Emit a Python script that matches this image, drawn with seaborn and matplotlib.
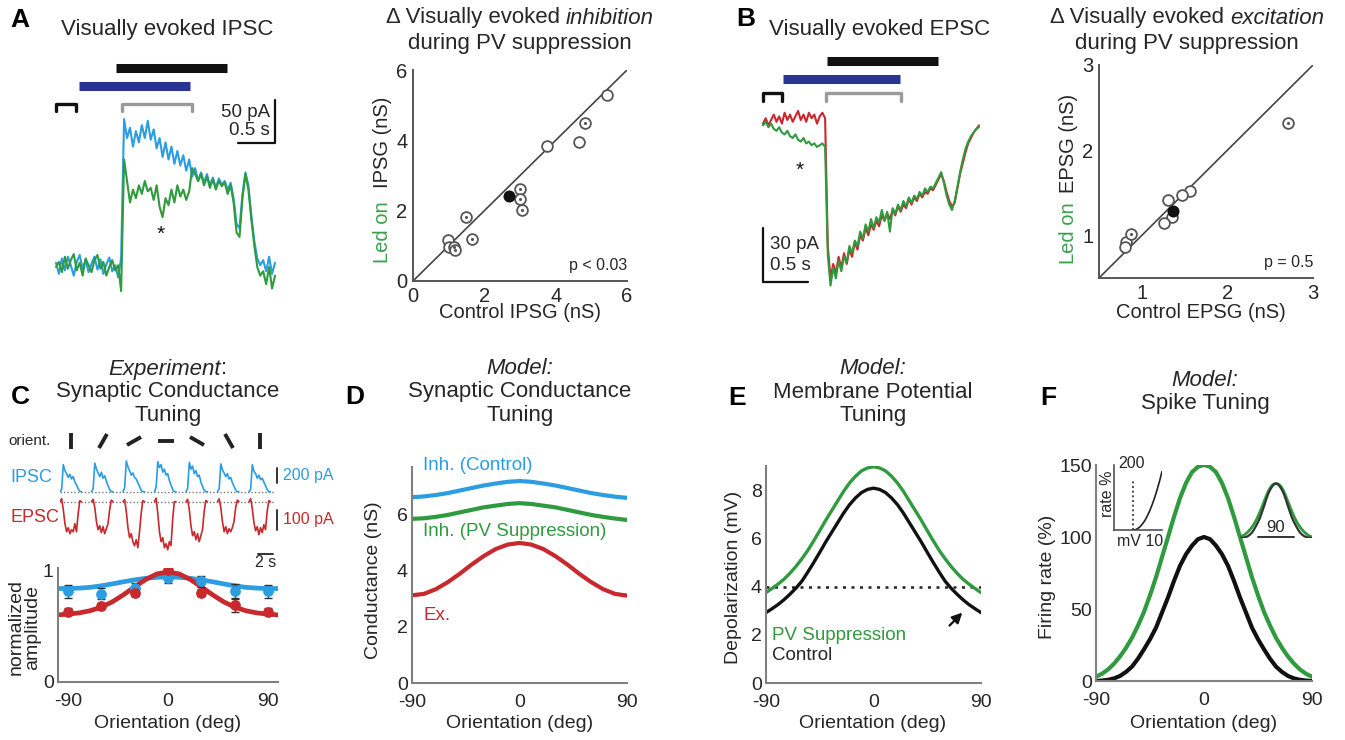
import numpy as np
import matplotlib
matplotlib.use("Agg")
import matplotlib.pyplot as plt
from matplotlib.markers import MarkerStyle
from matplotlib.transforms import Affine2D
import seaborn as sns

# ---------------- values ----------------
# A: visually evoked IPSC (pA), one sample every 40 ms
ipsc_dt = 0.04
ipsc_control = [5, -8, 10, -4, 12, 2, -10, 6, 14, -2, 8, -6, 4, 12, -3, 9, -8, 3, 11, -5, 2, -12,
                10, 172, 150, 162, 140, 158, 145, 165, 150, 170, 148, 160, 138, 150, 128, 145, 125,
                140, 120, 135, 118, 130, 112, 125, 105, 115, 100, 110, 98, 108, 95, 104, 92, 103,
                96, 100, 90, 98, 80, 50, 45, 85, 110, 95, 60, 30, 10, 2, 8, -5, 12, -8, 5]
ipsc_led = [0, 6, -6, 12, -2, 8, 15, -4, 5, -10, 10, 2, -6, 8, 14, -2, 6, -10, 0, 8, -4, 2,
            -28, 125, 100, 75, 90, 80, 95, 85, 100, 88, 92, 78, 95, 70, 58, 80, 72, 90, 75, 95,
            82, 90, 78, 88, 115, 108, 100, 108, 95, 105, 92, 102, 90, 100, 94, 98, 85, 95, 75,
            40, 35, 80, 108, 90, 55, 25, 0, -10, -5, -20, 0, -25, -10]
ipsc_base_win = (0.0, 0.27)
ipsc_led_win = (0.31, 1.81)
ipsc_stim_win = (0.81, 2.31)
ipsc_meas_win = (0.89, 1.84)

# B: visually evoked EPSC (pA), one sample every 30 ms
epsc_dt = 0.03
epsc_control = [-2, 1, -3, 0, 3, -1, 2, -2, 4, 0, 3, -1, 2, 5, 0, 3, -1, 4, 1, 3, -2, 2, 4, 1,
                -70, -88, -80, -85, -76, -82, -74, -80, -72, -76, -68, -72, -64, -67, -60, -64,
                -58, -61, -56, -59, -53, -56, -52, -55, -50, -53, -48, -51, -47, -49, -44, -47,
                -43, -45, -41, -43, -40, -41, -38, -39, -36, -33, -30, -34, -40, -45, -48, -46,
                -38, -30, -24, -18, -13, -10, -7, -5, -3]
epsc_led = [-3, -1, -4, -2, -5, -6, -4, -7, -8, -6, -9, -10, -8, -11, -12, -10, -13, -12, -14,
            -13, -15, -14, -13, -15,
            -75, -92, -82, -88, -78, -84, -76, -79, -70, -74, -67, -70, -62, -66, -58, -62,
            -55, -60, -54, -57, -50, -56, -51, -62, -49, -52, -47, -50, -45, -48, -43, -46,
            -42, -44, -40, -42, -38, -40, -37, -38, -35, -32, -29, -35, -42, -47, -50, -45,
            -37, -29, -22, -16, -12, -9, -7, -5, -4]
epsc_base_win = (0.0, 0.21)
epsc_led_win = (0.22, 1.52)
epsc_stim_win = (0.71, 1.94)
epsc_meas_win = (0.70, 1.53)

# A right: IPSG (nS), control vs LED on
ipsg_ctrl_open = [5.45, 4.65, 3.75, 0.97, 1.02]
ipsg_led_open = [5.30, 3.95, 3.85, 1.18, 0.98]
ipsg_ctrl_dot = [4.83, 3.00, 3.00, 3.05, 1.49, 1.66, 1.14, 1.18]
ipsg_led_dot = [4.50, 2.63, 2.32, 2.02, 1.81, 1.19, 0.98, 0.88]
ipsg_mean = (2.70, 2.42)

# B right: EPSG (nS), control vs LED on
epsg_ctrl_open = [1.56, 1.47, 1.31, 1.35, 1.26, 0.82, 0.80]
epsg_led_open = [1.52, 1.47, 1.41, 1.22, 1.14, 0.92, 0.86]
epsg_ctrl_dot = [2.71, 0.87]
epsg_led_dot = [2.32, 1.02]
epsg_mean = (1.37, 1.29)

# C: example responses to 7 orientations (pA)
c_dt = 0.22
c_period = 4.2
c_ipsc = [[0, 30, 360, 280, 240, 190, 230, 170, 200, 130, 90, 40, 5, 0],
          [0, 40, 380, 300, 250, 200, 260, 180, 210, 140, 80, 30, 0, 0],
          [0, 50, 410, 330, 280, 220, 250, 190, 170, 120, 70, 20, 0, 0],
          [0, 60, 400, 320, 360, 260, 300, 220, 240, 150, 90, 30, 0, 0],
          [0, 45, 390, 300, 340, 240, 280, 200, 220, 130, 70, 20, 0, 0],
          [0, 35, 370, 290, 250, 200, 240, 170, 190, 120, 70, 25, 0, 0],
          [0, 30, 360, 270, 240, 180, 220, 160, 180, 130, 80, 30, 0, 0]]
c_epsc = [[0, 15, -40, -110, -150, -130, -160, -140, -150, -110, -150, -60, 5, 0],
          [0, 12, -30, -100, -140, -120, -155, -125, -160, -135, -110, -40, 8, 0],
          [0, 10, -50, -130, -180, -160, -200, -220, -190, -230, -150, -60, 5, 0],
          [0, 18, -60, -150, -200, -180, -230, -210, -240, -200, -220, -90, 0, 0],
          [0, 12, -40, -120, -170, -150, -190, -160, -200, -170, -140, -50, 6, 0],
          [0, 14, -30, -100, -150, -125, -160, -135, -150, -130, -100, -30, 8, 0],
          [0, 15, -35, -105, -145, -125, -165, -130, -155, -115, -140, -50, 5, 0]]
orientations = [-90, -60, -30, 0, 30, 60, 90]
ipsc_norm = [0.81, 0.79, 0.84, 0.93, 0.90, 0.81, 0.81]
ipsc_sem = [0.06, 0.05, 0.05, 0.04, 0.05, 0.07, 0.06]
epsc_norm = [0.63, 0.68, 0.80, 1.00, 0.80, 0.69, 0.63]
epsc_sem = [0.03, 0.03, 0.03, 0.02, 0.03, 0.06, 0.03]
fit_ori = [-99, -90, -80, -70, -60, -50, -40, -30, -20, -10, 0, 10, 20, 30, 40, 50, 60, 70, 80, 90, 99]
ipsc_fit = [0.836, 0.837, 0.840, 0.847, 0.861, 0.878, 0.897, 0.914, 0.928, 0.937, 0.940,
            0.937, 0.928, 0.914, 0.897, 0.878, 0.861, 0.847, 0.840, 0.837, 0.836]
epsc_fit = [0.600, 0.608, 0.618, 0.638, 0.670, 0.718, 0.781, 0.851, 0.918, 0.967, 0.985,
            0.967, 0.918, 0.851, 0.781, 0.718, 0.670, 0.638, 0.618, 0.608, 0.600]

# D: model conductances (10 deg steps)
model_ori = [-90, -80, -70, -60, -50, -40, -30, -20, -10, 0, 10, 20, 30, 40, 50, 60, 70, 80, 90]
g_inh_control = [6.63, 6.66, 6.71, 6.78, 6.87, 6.96, 7.05, 7.12, 7.18, 7.21, 7.18, 7.12, 7.05,
                 6.96, 6.87, 6.78, 6.71, 6.65, 6.61]
g_inh_pv = [5.86, 5.88, 5.93, 6.00, 6.09, 6.18, 6.27, 6.33, 6.39, 6.42, 6.39, 6.33, 6.27, 6.18,
            6.09, 6.00, 5.93, 5.87, 5.82]
g_exc = [3.13, 3.18, 3.35, 3.60, 3.90, 4.23, 4.53, 4.78, 4.94, 5.00, 4.94, 4.78, 4.53, 4.23,
         3.90, 3.60, 3.35, 3.18, 3.12]

# E, F: model Vm and spike tuning (5 deg steps)
fine_ori = [-90, -85, -80, -75, -70, -65, -60, -55, -50, -45, -40, -35, -30, -25, -20, -15, -10,
            -5, 0, 5, 10, 15, 20, 25, 30, 35, 40, 45, 50, 55, 60, 65, 70, 75, 80, 85, 90]
vm_control = [2.92, 3.08, 3.25, 3.45, 3.68, 3.93, 4.22, 4.60, 5.00, 5.42, 5.85, 6.25, 6.65, 7.05,
              7.40, 7.68, 7.90, 8.03, 8.08, 8.03, 7.90, 7.68, 7.40, 7.05, 6.65, 6.25, 5.85, 5.42,
              5.00, 4.60, 4.22, 3.93, 3.68, 3.45, 3.25, 3.08, 2.92]
vm_pv = [3.75, 3.92, 4.10, 4.30, 4.55, 4.83, 5.15, 5.50, 5.90, 6.32, 6.75, 7.15, 7.55, 7.95, 8.30,
         8.58, 8.80, 8.92, 8.97, 8.92, 8.80, 8.58, 8.30, 7.95, 7.55, 7.15, 6.75, 6.32, 5.90, 5.50,
         5.15, 4.83, 4.55, 4.30, 4.10, 3.92, 3.75]
spike_threshold = 4.0
rate_control = [0, 0.3, 0.8, 1.8, 3.5, 6.3, 10, 15.5, 22, 29, 37, 47.5, 58, 69.5, 80, 88, 94, 98.5,
                100, 98.5, 94, 88, 80, 69.5, 58, 47.5, 37, 29, 22, 15.5, 10, 6.3, 3.5, 1.8, 0.8,
                0.3, 0]
rate_pv = [3, 5, 8, 12, 17, 23, 30, 38.5, 48, 59.5, 72, 86, 100, 114, 127, 137.5, 145, 148.8, 150,
           148.8, 145, 137.5, 127, 114, 100, 86, 72, 59.5, 48, 38.5, 30, 23, 17, 12, 8, 5, 3]
fi_vm = [4, 4.5, 5, 5.5, 6, 6.5, 7, 7.5, 8, 8.5, 9, 9.5, 10]
fi_rate = [0, 1, 5, 11, 20, 31, 45, 61, 80, 101, 125, 151, 180]

# ---------------- style ----------------
sns.set_style("white")
plt.rcParams["font.family"] = ["Liberation Sans", "DejaVu Sans"]
plt.rcParams["axes.unicode_minus"] = False

BLUE = "#2b9de0"
GREEN = "#2f9a3e"
RED = "#c9282d"
NAVY = "#283593"
GRAY = "#9a9a9a"
TXT = "#262626"
LEDGREEN = "#3aa14b"
AX = "#808080"

W, H = 1345, 740
fig = plt.figure(figsize=(W / 100, H / 100), dpi=100)


def px_axes(x0, y0, x1, y1):
    ax = fig.add_axes([x0 / W, 1 - y1 / H, (x1 - x0) / W, (y1 - y0) / H])
    ax.patch.set_alpha(0)
    return ax


def ftext(x, y, s, size=14, **kw):
    kw.setdefault("color", TXT)
    kw.setdefault("ha", "center")
    kw.setdefault("va", "center")
    return fig.text(x / W, 1 - y / H, s, fontsize=size, **kw)


def mixed(xc, y, parts, size=16):
    # parts: (text, style, gap after)
    r = fig.canvas.get_renderer()
    items = [ftext(0, y, s, size, ha="left", style=st) for s, st, _ in parts]
    widths = [t.get_window_extent(r).width for t in items]
    space = 0.278 * size * 100 / 72
    gaps = [space if g else 0 for _, _, g in parts]
    x = xc - (sum(widths) + sum(gaps[:-1])) / 2
    for t, w, g in zip(items, widths, gaps):
        t.set_x(x / W)
        x += w + g


def tuning_axes(ax, ylim, yticks):
    sns.despine(ax=ax)
    for s in ["left", "bottom"]:
        ax.spines[s].set_color(AX)
        ax.spines[s].set_linewidth(1.5)
    ax.set_xlim(-90, 90)
    ax.set_ylim(*ylim)
    ax.set_xticks([-90, 0, 90])
    ax.set_xticks([-45, 45], minor=True)
    ax.set_yticks(yticks)
    ax.tick_params(which="both", direction="in", length=4, width=1, color=AX,
                   labelsize=14, labelcolor=TXT, pad=3)
    ax.tick_params(axis="x", pad=8)


def bars_and_brackets(ax, base_win, led_win, stim_win, meas_win, y_stim, y_led, y_br, tick):
    ax.plot(stim_win, [y_stim, y_stim], color="#111111", lw=6.5, solid_capstyle="butt")
    ax.plot(led_win, [y_led, y_led], color=NAVY, lw=6.5, solid_capstyle="butt")
    for (a, b), c in [(base_win, "#111111"), (meas_win, GRAY)]:
        ax.plot([a, a, b, b], [y_br - tick, y_br, y_br, y_br - tick], color=c, lw=2.4)


# ---------------- A: IPSC traces ----------------
axA = px_axes(50, 50, 300, 300)
axA.axis("off")
tA = np.arange(len(ipsc_control)) * ipsc_dt
axA.set_xlim((50 - 56) / 74, (300 - 56) / 74)
axA.set_ylim((267 - 300) * 1.163, (267 - 50) * 1.163)
sns.lineplot(x=tA, y=ipsc_control, ax=axA, color=BLUE, lw=1.5, estimator=None)
sns.lineplot(x=tA, y=ipsc_led, ax=axA, color=GREEN, lw=1.5, estimator=None)
bars_and_brackets(axA, ipsc_base_win, ipsc_led_win, ipsc_stim_win, ipsc_meas_win, 231, 211, 189, 8)
axA.plot([2.46, 2.96, 2.96], [144, 144, 194], color="#111111", lw=1.6)
axA.text(2.89, 180, "50 pA", ha="right", va="center", fontsize=13.5, color=TXT)
axA.text(2.89, 159, "0.5 s", ha="right", va="center", fontsize=13.5, color=TXT)
axA.text(1.41, 38, "*", ha="center", va="center", fontsize=15, color="#111111")

# ---------------- B: EPSC traces ----------------
axB = px_axes(755, 50, 990, 295)
axB.axis("off")
tB = np.arange(len(epsc_control)) * epsc_dt
axB.set_xlim((755 - 763) / 90, (990 - 763) / 90)
axB.set_ylim((120 - 295) / 1.8, (120 - 50) / 1.8)
sns.lineplot(x=tB, y=epsc_control, ax=axB, color=RED, lw=1.5, estimator=None)
sns.lineplot(x=tB, y=epsc_led, ax=axB, color=GREEN, lw=1.5, estimator=None)
bars_and_brackets(axB, epsc_base_win, epsc_led_win, epsc_stim_win, epsc_meas_win, 33, 23, 15, 4.5)
axB.plot([0, 0, 0.5], [-60, -90, -90], color="#111111", lw=1.6)
axB.text(0.08, -69, "30 pA", ha="left", va="center", fontsize=13.5, color=TXT)
axB.text(0.08, -81, "0.5 s", ha="left", va="center", fontsize=13.5, color=TXT)
axB.text(0.41, -28, "*", ha="center", va="center", fontsize=15, color="#111111")


# ---------------- A/B scatter ----------------
def scatter_panel(ax, lim, ticks, cx_open, cy_open, cx_dot, cy_dot, mean, ptxt):
    ax.set_xlim(*lim)
    ax.set_ylim(*lim)
    sns.despine(ax=ax)
    for s in ["left", "bottom"]:
        ax.spines[s].set_color("#555555")
        ax.spines[s].set_linewidth(1.4)
    sns.lineplot(x=list(lim), y=list(lim), ax=ax, color="#444444", lw=1.2)
    sns.scatterplot(x=cx_open + cx_dot, y=cy_open + cy_dot, ax=ax, s=60, color="#555555",
                    linewidth=1.3, zorder=3)
    pts = ax.collections[-1]
    pts.set_facecolor("white")
    pts.set_edgecolor("#555555")
    sns.scatterplot(x=cx_dot, y=cy_dot, ax=ax, s=5, color="#555555", linewidth=0, zorder=4)
    sns.scatterplot(x=[mean[0]], y=[mean[1]], ax=ax, s=75, color="#111111", linewidth=0, zorder=5)
    ax.set_xticks(ticks)
    ax.set_yticks(ticks)
    ax.tick_params(length=0, labelsize=14.5, labelcolor=TXT, pad=4)
    ax.text(lim[1], lim[0] + 0.075 * (lim[1] - lim[0]), ptxt, ha="right", va="center",
            fontsize=11.5, color=TXT)
    ax.set_xlabel("")
    ax.set_ylabel("")


axSA = px_axes(413, 70, 627, 281)
scatter_panel(axSA, (0, 6), [0, 2, 4, 6], ipsg_ctrl_open, ipsg_led_open, ipsg_ctrl_dot,
              ipsg_led_dot, ipsg_mean, "p < 0.03")
axSB = px_axes(1099, 65, 1313, 278)
scatter_panel(axSB, (0.5, 3), [1, 2, 3], epsg_ctrl_open, epsg_led_open, epsg_ctrl_dot,
              epsg_led_dot, epsg_mean, "p = 0.5")

# ---------------- C: traces ----------------
seg_t = np.arange(len(c_ipsc[0])) * c_dt
axO = px_axes(60, 430, 275, 452)
axI = px_axes(60, 455, 275, 495)
axE = px_axes(60, 497, 275, 552)
for a in (axO, axI, axE):
    a.axis("off")
    a.set_xlim(0, 215 / 7.5)
axO.set_ylim(-1, 1)
axI.set_ylim(-(495 - 491.7) * 13.3, (491.7 - 455) * 13.3)
axE.set_ylim((501.7 - 552) * 5, (501.7 - 497) * 5)
axI.axhline(0, color="#777777", lw=1, ls=(0, (1, 1.5)))
axE.axhline(0, color="#777777", lw=1, ls=(0, (1, 1.5)))
for k, (ori, tr_i, tr_e) in enumerate(zip(orientations, c_ipsc, c_epsc)):
    t0 = k * c_period
    sns.lineplot(x=t0 + seg_t, y=tr_i, ax=axI, color=BLUE, lw=1.2, estimator=None)
    sns.lineplot(x=t0 + seg_t, y=tr_e, ax=axE, color=RED, lw=1.2, estimator=None)
    axO.plot([t0 + 1.5], [0], marker=MarkerStyle("|", transform=Affine2D().rotate_deg(-ori - 90)),
             ms=11, mew=2.8, color="#222222")
axI.plot([28.93, 28.93], [120, 320], color="#333333", lw=1.4, clip_on=False)
axI.text(29.7, 220, "200 pA", ha="left", va="center", fontsize=11.5, color=BLUE)
axE.plot([28.93, 28.93], [-40, -140], color="#333333", lw=1.4, clip_on=False)
axE.text(29.7, -90, "100 pA", ha="left", va="center", fontsize=11.5, color=RED)
axE.plot([26.4, 28.4], [-261, -261], color="#333333", lw=1.4, clip_on=False)
axE.text(27.4, -306, "2 s", ha="center", va="center", fontsize=11.5, color=TXT)
ftext(8, 441, "orient.", 11, ha="left")
ftext(10, 477, "IPSC", 13, ha="left", color=BLUE)
ftext(10, 517, "EPSC", 13, ha="left", color=RED)

# ---------------- C: normalized tuning ----------------
axC = px_axes(58, 568, 278, 682)
sns.despine(ax=axC)
for s in ["left", "bottom"]:
    axC.spines[s].set_color(AX)
    axC.spines[s].set_linewidth(1.5)
axC.set_xlim(-99, 99)
axC.set_ylim(0, 1.02)
sns.lineplot(x=fit_ori, y=ipsc_fit, ax=axC, color=BLUE, lw=3.4)
sns.lineplot(x=fit_ori, y=epsc_fit, ax=axC, color=RED, lw=3.4)
axC.errorbar(orientations, ipsc_norm, yerr=ipsc_sem, fmt="none", ecolor="#333333", elinewidth=1,
             capsize=3, zorder=4)
axC.errorbar(orientations, epsc_norm, yerr=epsc_sem, fmt="none", ecolor="#333333", elinewidth=1,
             capsize=3, zorder=4)
sns.scatterplot(x=orientations, y=ipsc_norm, ax=axC, color=BLUE, s=60, linewidth=0, zorder=5)
sns.scatterplot(x=orientations, y=epsc_norm, ax=axC, color=RED, s=60, linewidth=0, zorder=6)
axC.set_xticks(orientations)
axC.set_xticklabels(["-90", "", "", "0", "", "", "90"])
axC.set_yticks([0, 0.2, 0.4, 0.6, 0.8, 1.0])
axC.set_yticklabels(["0", "", "", "", "", "1"])
axC.tick_params(direction="in", length=4, width=1, color=AX, labelsize=14, labelcolor=TXT, pad=3)
axC.tick_params(axis="x", pad=8)
ftext(24, 627, "normalized\namplitude", 14, rotation=90, linespacing=0.95)

# ---------------- D ----------------
axD = px_axes(412, 467, 627, 683)
tuning_axes(axD, (0, 7.71), [0, 2, 4, 6])
sns.lineplot(x=model_ori, y=g_inh_control, ax=axD, color=BLUE, lw=3)
sns.lineplot(x=model_ori, y=g_inh_pv, ax=axD, color=GREEN, lw=3)
sns.lineplot(x=model_ori, y=g_exc, ax=axD, color=RED, lw=3)
ftext(423, 466, "Inh. (Control)", 13.5, ha="left", color=BLUE)
ftext(423, 532, "Inh. (PV Suppression)", 13.5, ha="left", color=GREEN)
ftext(423, 615, "Ex.", 13.5, ha="left", color=RED)

# ---------------- E ----------------
axEm = px_axes(766, 466, 981, 683)
tuning_axes(axEm, (0, 9), [0, 2, 4, 6, 8])
axEm.axhline(spike_threshold, color="#222222", lw=1.8, ls=(0, (1.2, 2.2)))
sns.lineplot(x=fine_ori, y=vm_pv, ax=axEm, color=GREEN, lw=2.4)
sns.lineplot(x=fine_ori, y=vm_control, ax=axEm, color="#111111", lw=2.4)
axEm.annotate("", xy=(76, 3.0), xytext=(62, 2.3),
              arrowprops=dict(arrowstyle="-|>", color="#111111", lw=1.6, mutation_scale=15))
ftext(772, 635, "PV Suppression", 13.5, ha="left", color=GREEN)
ftext(772, 656, "Control", 13.5, ha="left")

# ---------------- F ----------------
axF = px_axes(1096, 465, 1312, 681)
tuning_axes(axF, (0, 150), [0, 50, 100, 150])
sns.lineplot(x=fine_ori, y=rate_pv, ax=axF, color=GREEN, lw=3)
sns.lineplot(x=fine_ori, y=rate_control, ax=axF, color="#111111", lw=3)

axF1 = px_axes(1114, 465, 1162, 530)
sns.despine(ax=axF1)
for s in ["left", "bottom"]:
    axF1.spines[s].set_color("#444444")
    axF1.spines[s].set_linewidth(1.1)
axF1.set_xlim(0, 10)
axF1.set_ylim(0, 200)
axF1.set_xticks([])
axF1.set_yticks([])
axF1.axvline(spike_threshold, ymax=0.75, color="#333333", lw=1.2, ls=(0, (1.2, 1.6)))
sns.lineplot(x=fi_vm, y=fi_rate, ax=axF1, color="#222222", lw=1.2)
ftext(1118, 463, "200", 11.5, ha="left")
ftext(1107, 494, "rate %", 11.5, rotation=90)
ftext(1140, 542, "mV 10", 11.5)

axF2 = px_axes(1240, 478, 1312, 538)
axF2.axis("off")
axF2.set_xlim(-90, 90)
axF2.set_ylim(0, 1.1)
sns.lineplot(x=fine_ori, y=np.array(rate_pv) / max(rate_pv), ax=axF2, color=GREEN, lw=2)
sns.lineplot(x=fine_ori, y=np.array(rate_control) / max(rate_control), ax=axF2,
             color="#333333", lw=1.6)
axF2.plot([-45, 45], [0.02, 0.02], color="#333333", lw=1.4)
axF2.text(0, 0.2, "90", ha="center", va="center", fontsize=12, color=TXT)

# ---------------- axis labels ----------------
ftext(520, 313, "Control IPSG (nS)", 14.5)
ftext(382, 232, "Led on", 14.5, rotation=90, color=LEDGREEN)
ftext(382, 142, "IPSG (nS)", 14.5, rotation=90)
ftext(1201, 313, "Control EPSG (nS)", 14.5)
ftext(1069, 233, "Led on", 14.5, rotation=90, color=LEDGREEN)
ftext(1069, 143, "EPSG (nS)", 14.5, rotation=90)
for xc in (168, 520, 873, 1204):
    ftext(xc, 724, "Orientation (deg)", 14)
ftext(373, 580, "Conductance (nS)", 14, rotation=90)
ftext(733, 577, "Depolarization (mV)", 14, rotation=90)
ftext(1048, 577, "Firing rate (%)", 14, rotation=90)

# ---------------- titles and panel letters ----------------
ftext(167, 30, "Visually evoked IPSC", 16)
ftext(880, 30, "Visually evoked EPSC", 16)
mixed(520, 18, [("\u0394 Visually evoked", "normal", True), ("inhibition", "italic", False)])
ftext(520, 43, "during PV suppression", 16)
mixed(1187, 18, [("\u0394 Visually evoked", "normal", True), ("excitation", "italic", False)])
ftext(1187, 43, "during PV suppression", 16)
mixed(168, 369, [("Experiment", "italic", False), (":", "normal", False)])
ftext(168, 392, "Synaptic Conductance", 16)
ftext(168, 415, "Tuning", 16)
ftext(520, 369, "Model:", 16, style="italic")
ftext(520, 392, "Synaptic Conductance", 16)
ftext(520, 415, "Tuning", 16)
ftext(873, 369, "Model:", 16, style="italic")
ftext(873, 392, "Membrane Potential", 16)
ftext(873, 415, "Tuning", 16)
ftext(1205, 380, "Model:", 16, style="italic")
ftext(1205, 403, "Spike Tuning", 16)

for x, y, s in [(20, 20, "A"), (746, 19, "B"), (20, 397, "C"), (355, 397, "D"),
                (737, 398, "E"), (1048, 398, "F")]:
    ftext(x, y, s, 19, weight="bold", color="black")

fig.savefig("out.png", dpi=100)
